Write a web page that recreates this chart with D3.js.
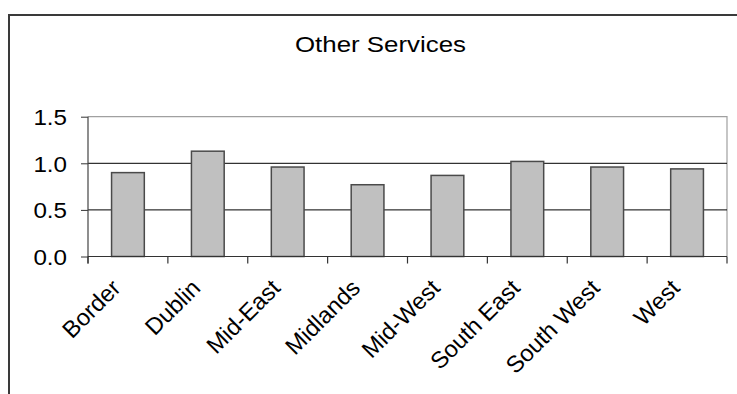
<!DOCTYPE html>
<html>
<head>
<meta charset="utf-8">
<script src="https://cdn.jsdelivr.net/npm/d3@7"></script>
<style>
  html, body { margin: 0; padding: 0; background: #fff; }
  svg { display: block; font-family: "Liberation Sans", Arial, sans-serif; }
</style>
</head>
<body>
<svg id="chart" width="737" height="394"></svg>
<script>
// Regional index values for "Other Services"
const regions = ["Border", "Dublin", "Mid-East", "Midlands", "Mid-West", "South East", "South West", "West"];
const values = [0.90, 1.13, 0.96, 0.77, 0.87, 1.02, 0.96, 0.94];
const yTicks = [0, 0.5, 1.0, 1.5];
const chartTitle = "Other Services";

const svg = d3.select("#chart");
const plot = { left: 88, right: 727, top: 116.7, bottom: 256.5 };

// Outer chart frame (extends past the right and bottom edges)
svg.append("rect")
  .attr("x", 9).attr("y", 15)
  .attr("width", 900).attr("height", 600)
  .attr("fill", "none")
  .attr("stroke", "#3a3a3a")
  .attr("stroke-width", 2);

const x = d3.scaleBand()
  .domain(regions)
  .range([plot.left, plot.right])
  .paddingInner(0.59)
  .paddingOuter(0.295);

const y = d3.scaleLinear()
  .domain([0, 1.5])
  .range([plot.bottom, plot.top]);

// Plot area border (top and right, light grey)
svg.append("path")
  .attr("d", `M${plot.left},${y(1.5)}H${plot.right}V${y(0)}`)
  .attr("fill", "none")
  .attr("stroke", "#a0a0a0")
  .attr("stroke-width", 1.2);

// Horizontal gridlines
svg.append("g")
  .selectAll("line")
  .data(yTicks.filter(t => t > 0 && t < 1.5))
  .join("line")
  .attr("x1", plot.left).attr("x2", plot.right)
  .attr("y1", d => y(d)).attr("y2", d => y(d))
  .attr("stroke", "#000")
  .attr("stroke-width", 1);

// Bars
svg.append("g")
  .selectAll("rect")
  .data(regions.map((r, i) => ({ r, v: values[i] })))
  .join("rect")
  .attr("x", d => x(d.r))
  .attr("y", d => y(d.v))
  .attr("width", x.bandwidth())
  .attr("height", d => y(0) - y(d.v))
  .attr("fill", "#c0c0c0")
  .attr("stroke", "#4a4a4a")
  .attr("stroke-width", 1.5);

// Y axis
const yAxis = d3.axisLeft(y)
  .tickValues(yTicks)
  .tickSize(7)
  .tickPadding(14)
  .tickFormat(d3.format(".1f"));

const gy = svg.append("g")
  .attr("transform", `translate(${plot.left},0)`)
  .call(yAxis);
gy.select(".domain").remove();
gy.selectAll(".tick line").attr("stroke", "#333");
gy.selectAll(".tick text")
  .attr("fill", "#000")
  .attr("font-size", 22)
  .attr("font-family", "'Liberation Sans', Arial, sans-serif")
  .attr("dy", "0.36em")
  .attr("transform", function () {
    // widen the glyphs slightly while keeping the right edge in place
    const tx = +d3.select(this).attr("x");
    return `translate(${-tx * 0.1},0) scale(1.1,1)`;
  });

// Vertical axis line
svg.append("line")
  .attr("x1", plot.left).attr("x2", plot.left)
  .attr("y1", y(1.5)).attr("y2", y(0) + 7)
  .attr("stroke", "#444")
  .attr("stroke-width", 1.2);

// X axis baseline
svg.append("line")
  .attr("x1", plot.left).attr("x2", plot.right)
  .attr("y1", y(0)).attr("y2", y(0))
  .attr("stroke", "#333")
  .attr("stroke-width", 1.2);

// Tick marks at category boundaries
const edges = d3.range(regions.length + 1).map(i => plot.left + i * x.step());
svg.append("g")
  .selectAll("line")
  .data(edges)
  .join("line")
  .attr("x1", d => d).attr("x2", d => d)
  .attr("y1", y(0)).attr("y2", y(0) + 7)
  .attr("stroke", "#333")
  .attr("stroke-width", 1.2);

// Category labels, rotated
svg.append("g")
  .selectAll("text")
  .data(regions)
  .join("text")
  .attr("text-anchor", "end")
  .attr("font-size", 23.5)
  .attr("fill", "#000")
  .attr("transform", d => `translate(${x(d) + x.bandwidth() / 2 - 6},${y(0) + 33}) rotate(-45)`)
  .text(d => d);

// Title
svg.append("text")
  .attr("text-anchor", "middle")
  .attr("font-size", 22.5)
  .attr("fill", "#000")
  .attr("transform", `translate(380.5,52) scale(1.15,1)`)
  .text(chartTitle);
</script>
</body>
</html>
